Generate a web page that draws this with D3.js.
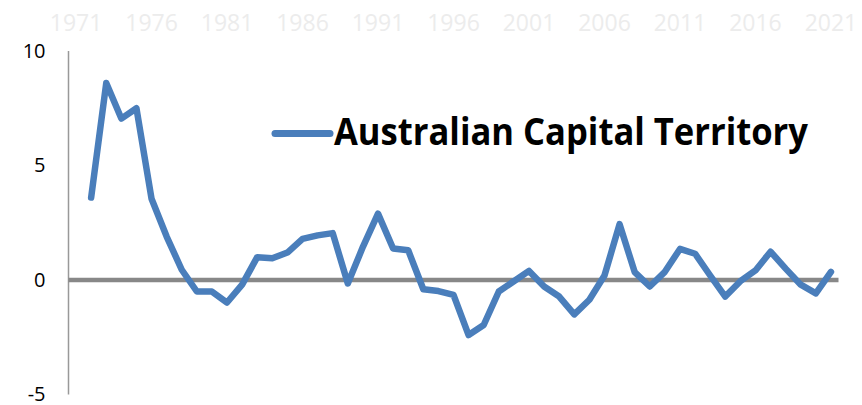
<!DOCTYPE html>
<html lang="en">
  <head>
    <meta charset="utf-8">
    <title>Australian Capital Territory</title>
    <script src="https://d3js.org/d3.v7.min.js"></script>
    <style type="text/css">
      body {
        margin: 0;
        background: white;
        font-family: "Open Sans", "Liberation Sans", sans-serif;
      }
    </style>
  </head>
  <body>
    <script>
      var width = 862;
      var height = 405;

      // years on the category axis (first year has no value)
      var years = d3.range(1971, 2022);
      var tickYears = [1971, 1976, 1981, 1986, 1991, 1996, 2001, 2006, 2011, 2016, 2021];
      var yTicks = [-5, 0, 5, 10];
      var seriesName = "Australian Capital Territory";
      var values = [null,
        3.6, 8.6, 7.05, 7.5, 3.55, 1.9, 0.45, -0.5, -0.5, -0.98,
        -0.2, 1.0, 0.95, 1.2, 1.8, 1.95, 2.05, -0.15, 1.45, 2.9,
        1.38, 1.3, -0.4, -0.48, -0.65, -2.4, -1.96, -0.5, -0.05, 0.4,
        -0.28, -0.72, -1.5, -0.86, 0.2, 2.44, 0.35, -0.28, 0.36, 1.36,
        1.15, 0.2, -0.72, -0.05, 0.42, 1.24, 0.5, -0.2, -0.58, 0.36];

      var data = years.map(function(y, i) { return {year: y, value: values[i]}; });

      var svg = d3.select("body")
        .append("svg")
        .attr("width", width)
        .attr("height", height);

      // category axis, one band per year
      var x = d3.scaleBand()
        .domain(years)
        .range([68.5, 838.5])
        .paddingInner(0)
        .paddingOuter(0);

      var y = d3.scaleLinear()
        .domain([-5, 10])
        .range([394.6, 51]);

      function cx(yr) { return x(yr) + x.bandwidth() / 2; }

      // year labels along the top, very faint
      var xAxis = svg.append("g")
        .attr("transform", "translate(0,31)")
        .call(d3.axisTop(x).tickValues(tickYears).tickSize(0).tickPadding(0));
      xAxis.select(".domain").remove();
      xAxis.selectAll("text")
        .attr("fill", "#ececec")
        .attr("dy", 0)
        .style("font-size", "23px")
        .style("font-family", "'Open Sans', sans-serif");

      // value axis, plain hyphen for negatives
      var yAxis = svg.append("g")
        .attr("transform", "translate(68.5,0)")
        .call(d3.axisLeft(y).tickValues(yTicks).tickSize(0).tickPadding(23)
          .tickFormat(function(d) { return String(d); }));
      yAxis.select(".domain").remove();
      yAxis.selectAll("text")
        .attr("fill", "#000")
        .attr("dy", "0.3em")
        .style("font-size", "20px")
        .style("font-family", "'Open Sans', sans-serif");

      svg.append("line")
        .attr("x1", 68.5).attr("x2", 68.5)
        .attr("y1", y(10)).attr("y2", y(-5))
        .attr("stroke", "#999")
        .attr("stroke-width", 1.5);

      // zero line
      svg.append("line")
        .attr("x1", 68.5).attr("x2", 838.5)
        .attr("y1", y(0)).attr("y2", y(0))
        .attr("stroke", "#888")
        .attr("stroke-width", 4.5);

      var line = d3.line()
        .defined(function(d) { return d.value !== null; })
        .x(function(d) { return cx(d.year); })
        .y(function(d) { return y(d.value); });

      svg.append("path")
        .datum(data)
        .attr("fill", "none")
        .attr("stroke", "#4a7ebb")
        .attr("stroke-width", 6.5)
        .attr("stroke-linejoin", "round")
        .attr("stroke-linecap", "round")
        .attr("d", line);

      // legend inside the plot
      var legend = svg.append("g");
      legend.append("line")
        .attr("x1", 275).attr("x2", 330)
        .attr("y1", 133.5).attr("y2", 133.5)
        .attr("stroke", "#4a7ebb")
        .attr("stroke-width", 7)
        .attr("stroke-linecap", "round");
      legend.append("text")
        .attr("x", 334)
        .attr("y", 145)
        .attr("textLength", 474)
        .attr("lengthAdjust", "spacingAndGlyphs")
        .style("font-size", "37px")
        .style("font-weight", "bold")
        .style("font-family", "'Open Sans', sans-serif")
        .text(seriesName);
    </script>
  </body>
</html>
